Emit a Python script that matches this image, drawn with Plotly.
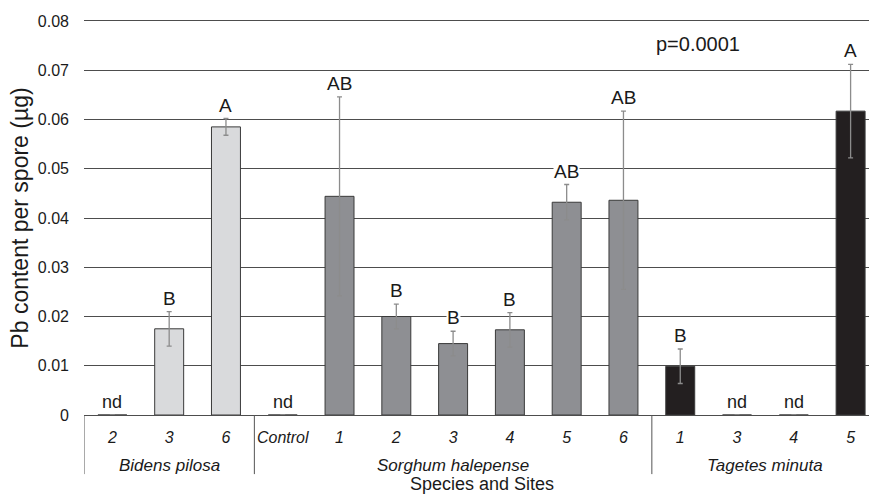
import plotly.graph_objects as go

# ---- data ----
sites = ["2", "3", "6", "Control", "1", "2", "3", "4", "5", "6", "1", "3", "4", "5"]
species = ["Bidens pilosa"] * 3 + ["Sorghum halepense"] * 7 + ["Tagetes minuta"] * 4
pb_content = [0, 0.0175, 0.0585, 0, 0.0444, 0.0200, 0.0145, 0.0173, 0.0432, 0.0436, 0.0099, 0, 0, 0.0617]
pb_sd = [0, 0.0035, 0.0017, 0, 0.0202, 0.0025, 0.0025, 0.0035, 0.0036, 0.0181, 0.0035, 0, 0, 0.0095]
letters = ["nd", "B", "A", "nd", "AB", "B", "B", "B", "AB", "AB", "B", "nd", "nd", "A"]
species_order = ["Bidens pilosa", "Sorghum halepense", "Tagetes minuta"]
species_colors = {"Bidens pilosa": "#d9dadc", "Sorghum halepense": "#8e8f93", "Tagetes minuta": "#231f20"}

FONT = "Arial, Liberation Sans, sans-serif"
idx = list(range(len(sites)))

fig = go.Figure()
for sp in species_order:
    ii = [i for i in idx if species[i] == sp]
    fig.add_trace(go.Bar(
        x=ii, y=[pb_content[i] for i in ii],
        error_y=dict(type="data", array=[pb_sd[i] for i in ii], color="#8c8c8c",
                     thickness=1.3, width=2.5),
        marker=dict(color=species_colors[sp], line=dict(color="#3a3a3a", width=1)),
        width=0.51, showlegend=False, name=sp,
    ))

annotations = []
for i in idx:
    annotations.append(dict(
        x=i, y=pb_content[i] + pb_sd[i], xref="x", yref="y", text=letters[i],
        showarrow=False, yanchor="bottom", yshift=2,
        font=dict(family=FONT, size=19 if letters[i] != "nd" else 18, color="#1a1a1a"),
        bgcolor="white", borderpad=0,
    ))

# group labels and dividers
shapes = []
start = 0
bounds = [-0.5]
for sp in species_order:
    n = species.count(sp)
    center = start + (n - 1) / 2
    annotations.append(dict(
        x=center, y=-0.129, xref="x", yref="paper", text=sp, showarrow=False,
        yanchor="middle", font=dict(family=FONT, size=17, color="#1a1a1a", style="italic"),
    ))
    start += n
    bounds.append(start - 0.5)
for b in bounds:
    shapes.append(dict(type="line", xref="x", yref="paper", x0=b, x1=b, y0=0, y1=-0.15,
                       line=dict(color="#555555", width=1)))

annotations.append(dict(
    x=(len(sites) - 1) / 2, y=-0.176, xref="x", yref="paper", text="Species and Sites",
    showarrow=False, yanchor="middle", font=dict(family=FONT, size=18, color="#1a1a1a"),
))
annotations.append(dict(
    x=10.32, y=0.0753, xref="x", yref="y", text="p=0.0001", showarrow=False,
    yanchor="middle", font=dict(family=FONT, size=20, color="#1a1a1a"),
))

fig.update_layout(
    width=869, height=495,
    margin=dict(l=84, r=0, t=21, b=80),
    paper_bgcolor="white", plot_bgcolor="white",
    font=dict(family=FONT, color="#1a1a1a"),
    bargap=0.49,
    annotations=annotations, shapes=shapes,
    xaxis=dict(
        range=[-0.5, 13.324], tickmode="array", tickvals=idx, ticktext=sites,
        tickfont=dict(family=FONT, size=16, style="italic", color="#1a1a1a"),
        showgrid=False, showline=True, mirror=True, linecolor="#4d4d4d", linewidth=1.2,
        ticks="", ticklabelstandoff=8, zeroline=False,
    ),
    yaxis=dict(
        range=[0, 0.08], dtick=0.01, tick0=0,
        tickfont=dict(family=FONT, size=16, color="#1a1a1a"),
        showgrid=True, gridcolor="#4d4d4d", gridwidth=1.2,
        zeroline=False, showline=False, ticks="", ticklabelstandoff=14,
        title=dict(text="Pb content per spore (µg)", font=dict(family=FONT, size=23, color="#1a1a1a"),
                   standoff=2),
    ),
)

fig.write_html("out.html", config={"displayModeBar": False},
               post_script="document.body.style.margin='0';")
